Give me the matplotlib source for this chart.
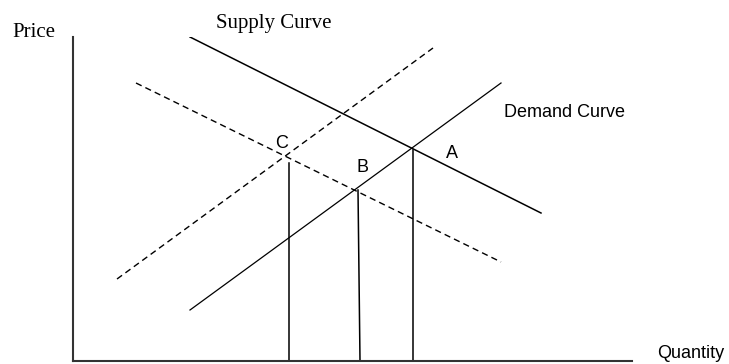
import matplotlib
matplotlib.use("Agg")
import matplotlib.pyplot as plt

# curve endpoints (quantity, price)
supplyQ = [117, 468]
supplyP = [324, 148]
demandQ = [117, 428]
demandP = [51, 278]
demandShiftQ = [44, 360]   # dashed, shifted demand
demandShiftP = [82, 313]
supplyShiftQ = [63, 428]   # dashed, shifted supply
supplyShiftP = [278, 99]

# drop lines from the equilibrium points to the quantity axis
dropQTop = [216, 285, 340]
dropQBottom = [216, 287, 340]
dropP = [198, 171, 211]

pointLabels = ["C", "B", "A"]
pointLabelQ = [209, 289, 379]
pointLabelP = [218, 194, 208]

fig = plt.figure(figsize=(7.29, 3.64), dpi=100)
ax = fig.add_axes([73/729, 3/364, 559/729, 324/364])
ax.set_xlim(0, 559)
ax.set_ylim(0, 324)
for side in ["top", "right"]:
  ax.spines[side].set_visible(False)
for side in ["left", "bottom"]:
  ax.spines[side].set_linewidth(1.5)
  ax.spines[side].set_color("#333333")
ax.set_xticks([])
ax.set_yticks([])

ax.plot(supplyQ, supplyP, color="black", lw=1.1)
ax.plot(demandQ, demandP, color="black", lw=0.9)
ax.plot(demandShiftQ, demandShiftP, color="black", lw=1.0, dashes=(4.5, 3))
ax.plot(supplyShiftQ, supplyShiftP, color="black", lw=1.0, dashes=(4.5, 3))

for i in range(len(dropP)):
  ax.plot([dropQBottom[i], dropQTop[i]], [0, dropP[i]], color="black", lw=1.1)

for i in range(len(pointLabels)):
  ax.text(pointLabelQ[i], pointLabelP[i], pointLabels[i], family="Liberation Sans",
          fontsize=13, ha="center", va="center", clip_on=False)

ax.text(-39, 329, "Price", family="Liberation Serif", fontsize=15, ha="center", va="center", clip_on=False)
ax.text(201, 338, "Supply Curve", family="Liberation Serif", fontsize=15, ha="center", va="center", clip_on=False)
ax.text(431, 249, "Demand Curve", family="Liberation Sans", fontsize=13, ha="left", va="center", clip_on=False)
ax.text(584, 8, "Quantity", family="Liberation Sans", fontsize=13, ha="left", va="center", clip_on=False)

fig.savefig("out.png", dpi=100)
